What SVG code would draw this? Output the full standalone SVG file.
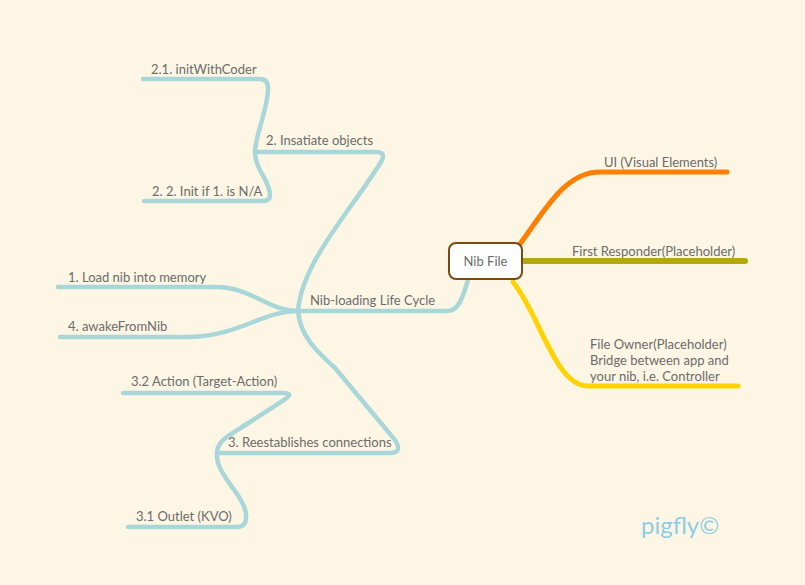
<svg xmlns="http://www.w3.org/2000/svg" width="805" height="585" viewBox="0 0 805 585">
<style>
text{font-family:Lato,"Open Sans","Liberation Sans",sans-serif;font-size:13px;fill:#6b6b6b}
.b{fill:none;stroke:#a8d6d9;stroke-width:4.5;stroke-linecap:round;stroke-linejoin:round}
.o{fill:none;stroke:#ff7f00;stroke-width:5;stroke-linecap:round}
.g{fill:none;stroke:#b3a90a;stroke-width:6;stroke-linecap:round}
.y{fill:none;stroke:#ffd200;stroke-width:5;stroke-linecap:round}
</style>
<rect width="805" height="585" fill="#fef6e4"/>
<g id="connectors">
<path class="b" d="M298 311 H447 C458 311 462 300 468 280"/>
<path class="b" d="M255 152 H376 Q387 152 381 162 C350 212 302 262 298 311"/>
<path class="b" d="M298 311 C300 335 315 350 335 368 L395 440 Q403 453 390 453 H217"/>
<path class="b" d="M58 287 H215 C252 287 268 311 298 311"/>
<path class="b" d="M60 337 H190 C242 335 262 311 298 311"/>
<path class="b" d="M255 152 C255 135 268 110 268 88 Q268 79 260 79 H143"/>
<path class="b" d="M255 152 C255 170 270 180 270 195 Q270 201 263 201 H144"/>
<path class="b" d="M217 453 C217 440 230 435 250 422 L284 400 Q295 393 283 393 H123"/>
<path class="b" d="M217 453 C215 475 245 495 246 515 Q247 527 237 527 H128"/>
<path class="o" d="M520 244 C545 210 565 172 600 172 H727"/>
<path class="g" d="M522 261 H745"/>
<path class="y" d="M513 282 C540 315 555 386 588 386 H738"/>
</g>
<g id="nib-file">
<rect x="449" y="243" width="73" height="36" rx="7" fill="#ffffff" stroke="#7a4a14" stroke-width="2"/>
<text x="485.5" y="266" text-anchor="middle">Nib File</text>
</g>
<g id="ui"><text x="604" y="167">UI (Visual Elements)</text></g>
<g id="first-responder"><text x="572" y="256">First Responder(Placeholder)</text></g>
<g id="file-owner">
<text x="590" y="349">File Owner(Placeholder)</text>
<text x="590" y="365">Bridge between app and</text>
<text x="590" y="381">your nib, i.e. Controller</text>
</g>
<g id="lifecycle"><text x="310" y="305">Nib-loading Life Cycle</text></g>
<g id="load"><text x="68" y="282">1. Load nib into memory</text></g>
<g id="awake"><text x="68" y="331">4. awakeFromNib</text></g>
<g id="instantiate"><text x="266" y="145">2. Insatiate objects</text></g>
<g id="initwithcoder"><text x="151" y="74">2.1. initWithCoder</text></g>
<g id="init"><text x="152" y="196">2. 2. Init if 1. is N/A</text></g>
<g id="reestablish"><text x="228" y="447">3. Reestablishes connections</text></g>
<g id="action"><text x="131" y="386">3.2 Action (Target-Action)</text></g>
<g id="outlet"><text x="136" y="521">3.1 Outlet (KVO)</text></g>
<text x="641" y="534" style="font-size:24px;fill:#8ecde4">pigfly©</text>
</svg>
